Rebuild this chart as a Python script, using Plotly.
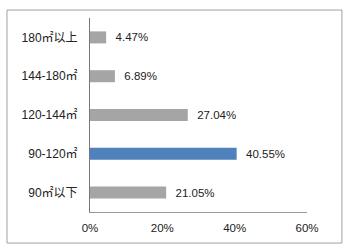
import plotly.graph_objects as go

categories = ["90㎡以下", "90-120㎡", "120-144㎡", "144-180㎡", "180㎡以上"]
values = [21.05, 40.55, 27.04, 6.89, 4.47]
labels = ["21.05%", "40.55%", "27.04%", "6.89%", "4.47%"]
colors = ["#A5A5A5", "#4F81BD", "#A5A5A5", "#A5A5A5", "#A5A5A5"]
tick_vals = [0, 20, 40, 60]
tick_text = ["0%", "20%", "40%", "60%"]

font_family = "Liberation Sans, Noto Sans CJK SC, sans-serif"

fig = go.Figure(go.Bar(
    y=categories, x=values, orientation="h",
    marker=dict(color=colors, line=dict(width=0)),
    text=labels, texttemplate="  %{text}", textposition="outside",
    textfont=dict(family=font_family, size=11.5, color="#222222"),
    cliponaxis=False,
))

fig.update_layout(
    width=350, height=250,
    margin=dict(l=90, r=43, t=18, b=38),
    paper_bgcolor="white", plot_bgcolor="white",
    showlegend=False, bargap=0.69,
    font=dict(family=font_family, size=11, color="#222222"),
    xaxis=dict(range=[0, 60], tickvals=tick_vals, ticktext=tick_text,
               showgrid=False, zeroline=False, showline=True,
               linecolor="#999999", linewidth=1, ticks="",
               tickfont=dict(size=11.5),
               ticklabelstandoff=5, fixedrange=True),
    yaxis=dict(showgrid=False, zeroline=False, showline=True,
               linecolor="#777777", linewidth=1, ticks="",
               tickfont=dict(size=12),
               ticklabelstandoff=9, fixedrange=True),
    shapes=[dict(type="rect", xref="paper", yref="paper",
                 x0=-0.3825, x1=1.161, y0=-0.16, y1=1.041,
                 line=dict(color="#A0A0A0", width=1))],
)

fig.write_html("out.html")
